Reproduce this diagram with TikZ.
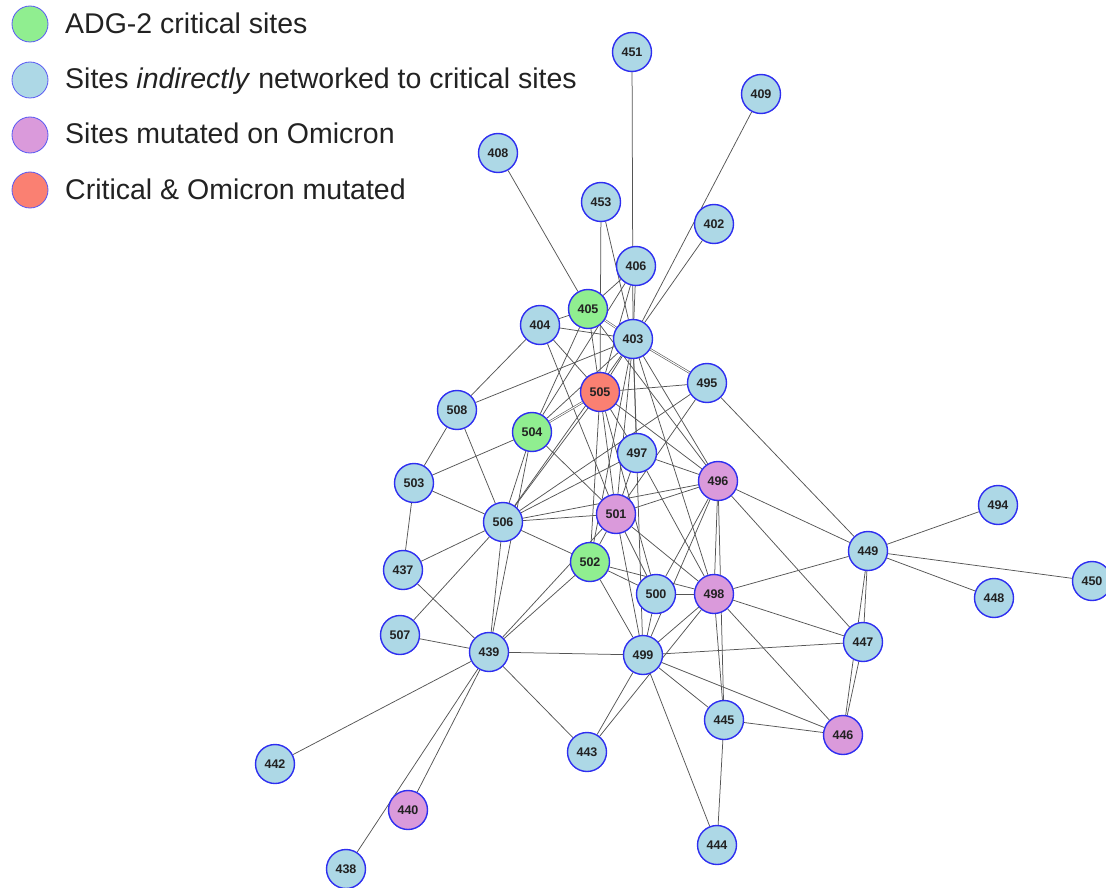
\documentclass[tikz,border=0pt]{standalone}
\usepackage{fontspec}
\setmainfont{Liberation Sans}
\usetikzlibrary{backgrounds}
\definecolor{nodeblue}{HTML}{2E2EF0}
\definecolor{lblue}{HTML}{ADD8E6}
\definecolor{lgreen}{HTML}{90EE90}
\definecolor{lplum}{HTML}{DA9ADB}
\definecolor{lsalmon}{HTML}{FA8072}
\definecolor{labelgray}{HTML}{222222}
\definecolor{edgegray}{HTML}{555555}
\begin{document}
\begin{tikzpicture}[x=1pt,y=-1pt,
  site/.style={circle, draw=nodeblue, line width=1.4pt, minimum size=39pt, inner sep=0pt,
    font=\fontsize{12.5}{12.5}\selectfont\bfseries, text=labelgray, fill=lblue},
  crit/.style={site, fill=lgreen},
  omi/.style={site, fill=lplum},
  both/.style={site, fill=lsalmon},
  edge/.style={draw=edgegray, line width=0.75pt},
  dbl/.style={draw=edgegray, line width=0.6pt, double=white, double distance=1pt},
  legdot/.style={circle, draw=nodeblue!80, line width=0.8pt, minimum size=36pt, inner sep=0pt},
  legtext/.style={anchor=base west, font=\fontsize{28.5}{30}\selectfont, text=labelgray, inner sep=0pt}]
\useasboundingbox (0,0) rectangle (1106,888);

% legend
\node[legdot, fill=lgreen]  (lg1) at (30,24) {};
\node[legdot, fill=lblue]   (lg2) at (30,80) {};
\node[legdot, fill=lplum]   (lg3) at (30,135) {};
\node[legdot, fill=lsalmon] (lg4) at (30,190) {};
\node[legtext] (lt1) at (65,34) {ADG-2 critical sites};
\node[legtext] (lt2) at (65,89) {Sites \textit{indirectly} networked to critical sites};
\node[legtext] (lt3) at (65,144) {Sites mutated on Omicron};
\node[legtext] (lt4) at (65,199) {Critical \& Omicron mutated};

% nodes
\node[site] (n451) at (632,52) {451};
\node[site] (n409) at (761,94) {409};
\node[site] (n408) at (498,153) {408};
\node[site] (n453) at (601,202) {453};
\node[site] (n402) at (714,224) {402};
\node[site] (n406) at (636,266) {406};
\node[crit] (n405) at (588,309) {405};
\node[site] (n404) at (540,325) {404};
\node[site] (n403) at (633,339) {403};
\node[site] (n495) at (707,383) {495};
\node[both] (n505) at (600,392) {505};
\node[site] (n508) at (457,410) {508};
\node[crit] (n504) at (532,432) {504};
\node[site] (n497) at (637,453) {497};
\node[omi]  (n496) at (718,481) {496};
\node[site] (n503) at (414,483) {503};
\node[omi]  (n501) at (616,514) {501};
\node[site] (n506) at (503,522) {506};
\node[site] (n449) at (868,551) {449};
\node[site] (n494) at (998,505) {494};
\node[crit] (n502) at (590,562) {502};
\node[site] (n437) at (403,570) {437};
\node[site] (n500) at (656,594) {500};
\node[omi]  (n498) at (714,594) {498};
\node[site] (n450) at (1092,581) {450};
\node[site] (n448) at (994,598) {448};
\node[site] (n507) at (400,635) {507};
\node[site] (n447) at (863,642) {447};
\node[site] (n439) at (489,652) {439};
\node[site] (n499) at (643,655) {499};
\node[site] (n445) at (724,720) {445};
\node[omi]  (n446) at (843,735) {446};
\node[site] (n442) at (275,764) {442};
\node[site] (n443) at (587,752) {443};
\node[omi]  (n440) at (408,810) {440};
\node[site] (n444) at (717,845) {444};
\node[site] (n438) at (346,869) {438};

\begin{pgfonlayer}{background}
\foreach \a/\b in {
  451/403, 406/403, 409/403, 402/403, 408/405, 453/505, 453/403,
  406/405, 406/505, 406/504, 405/404, 405/505, 405/504, 405/496,
  404/403, 404/505, 404/501, 404/508, 403/508, 403/505, 403/504, 403/506,
  403/502, 403/501, 403/497, 403/499, 403/498, 403/496,
  495/505, 495/449, 495/501, 495/506,
  505/506, 505/502, 505/501, 505/500, 505/497, 505/496,
  508/503, 508/506, 503/504, 503/506, 503/437,
  504/506, 504/439, 504/501, 506/501, 506/496, 506/497, 506/502,
  506/437, 506/507, 506/439, 437/439, 507/439,
  439/442, 439/440, 439/438, 439/443, 439/499, 439/502, 439/501,
  497/496, 497/501, 497/498, 496/501, 496/500, 496/499, 496/498, 496/445,
  496/447, 496/449, 501/502, 501/500, 501/499, 501/498,
  502/500, 502/498, 502/499, 500/498, 500/499,
  498/499, 498/443, 498/449, 498/447, 498/446, 498/445,
  499/447, 499/446, 499/445, 499/444, 499/443,
  445/446, 445/444, 447/449, 447/446, 449/446,
  449/494, 449/448, 449/450}
  {\draw[edge] (n\a) -- (n\b);}
\draw[dbl] (n403) -- (n495);
\draw[dbl] (n405) -- (n403);
\draw[dbl] (n504) -- (n505);
\end{pgfonlayer}
\end{tikzpicture}
\end{document}
